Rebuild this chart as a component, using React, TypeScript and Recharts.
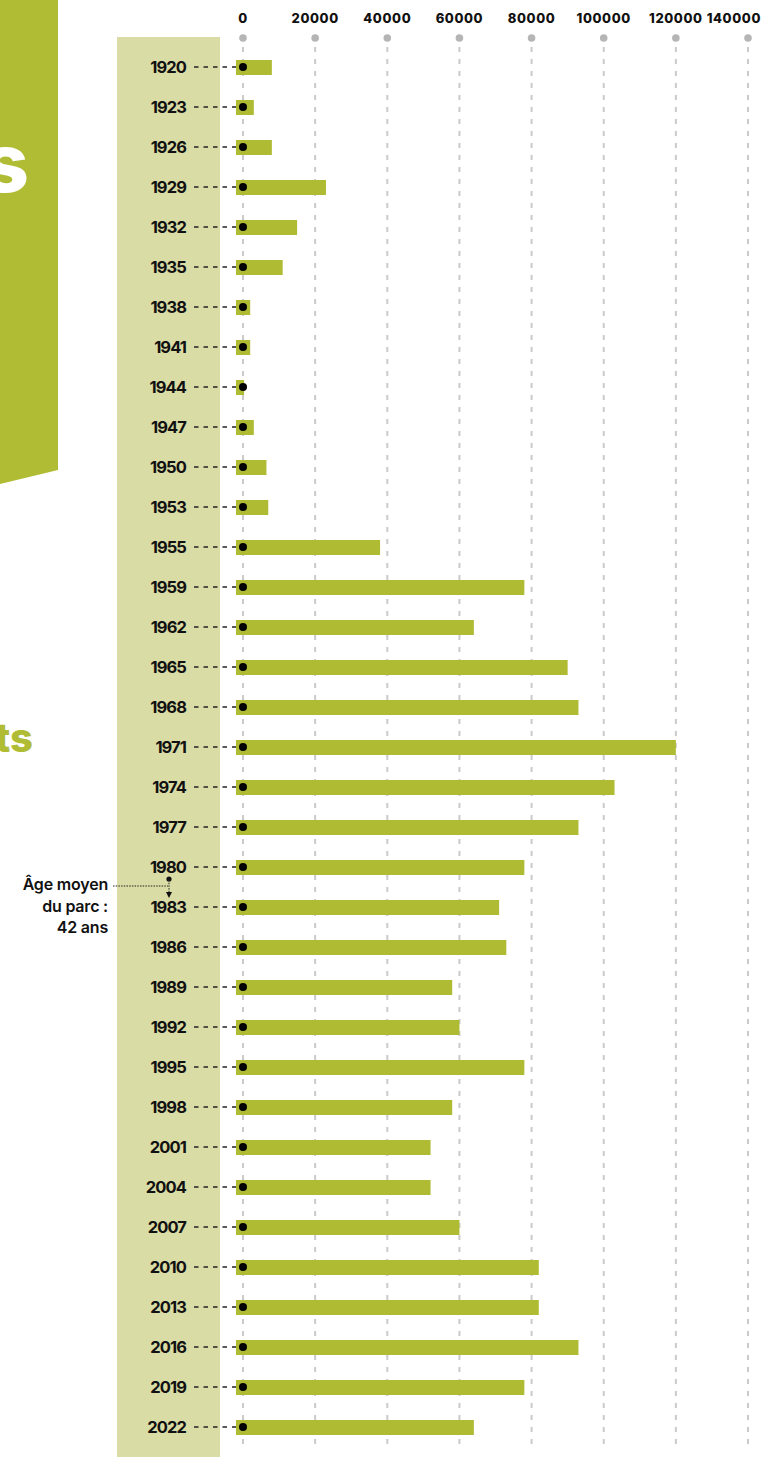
import React from 'react';
import { ComposedChart, Bar, Line, XAxis, YAxis, CartesianGrid } from 'recharts';

// Construction year of the housing stock (every 3 years) and number of dwellings
const years = [
  '1920', '1923', '1926', '1929', '1932', '1935', '1938', '1941', '1944', '1947',
  '1950', '1953', '1955', '1959', '1962', '1965', '1968', '1971', '1974', '1977',
  '1980', '1983', '1986', '1989', '1992', '1995', '1998', '2001', '2004', '2007',
  '2010', '2013', '2016', '2019', '2022',
];
const counts = [
  8000, 3000, 8000, 23000, 15000, 11000, 2000, 2000, 300, 3000,
  6500, 7000, 38000, 78000, 64000, 90000, 93000, 120000, 103000, 93000,
  78000, 71000, 73000, 58000, 60000, 78000, 58000, 52000, 52000, 60000,
  82000, 82000, 93000, 78000, 64000,
];
const xTicks = [0, 20000, 40000, 60000, 80000, 100000, 120000, 140000];

const avgLabel = ['Âge moyen', 'du parc :', '42 ans'];

const data = years.map((year, i) => ({ year, count: counts[i], origin: 0 }));

const GREEN = '#afbc33';
const LIGHT = '#d9dca5';
const FONT = 'Inter, "Noto Sans", sans-serif';
const X_MAX = xTicks[xTicks.length - 1];

const XTick = (props: any) => {
  const { x, payload } = props;
  // the last label is pushed left so it stays inside the page
  const last = payload.value === X_MAX;
  return (
    <g>
      <text
        x={last ? x + 13 : x}
        y={23}
        textAnchor={last ? 'end' : 'middle'}
        fontSize={13}
        fontWeight={800}
        fill="#111"
        fontFamily={FONT}
        letterSpacing={0.6}
      >
        {payload.value}
      </text>
      <circle cx={x} cy={38} r={3.8} fill="#b5b5b5" />
    </g>
  );
};

const YTick = (props: any) => {
  const { y, payload } = props;
  return (
    <g>
      <text x={186} y={y} dy={6} textAnchor="end" fontSize={16.5} fontWeight={700} fill="#111" fontFamily={FONT} letterSpacing={-0.9}>
        {payload.value}
      </text>
      <line x1={194} x2={236} y1={y} y2={y} stroke="#222" strokeWidth={1.4} strokeDasharray="4.5 5" />
    </g>
  );
};

// bar starts a little left of the zero line, like the original
const BarShape = (p: any) => (
  <rect x={p.x - 7} y={p.y} width={Math.max(p.width, 0) + 7} height={p.height} fill={GREEN} />
);

export default function App() {
  return (
    <div style={{ position: 'absolute', left: 0, top: 0, width: 777, height: 1457, background: '#fff', overflow: 'hidden', fontFamily: FONT }}>
      <svg width={777} height={1457} style={{ position: 'absolute', left: 0, top: 0 }}>
        <polygon points="0,0 58,0 58,470 0,484" fill="#b0bc34" />
        <text x={29} y={192} textAnchor="end" fontSize={82} fontWeight={800} fill="#fff" fontFamily={FONT}>s</text>
        <text x={33} y={752} textAnchor="end" fontSize={40} fontWeight={800} fill="#b0bc34" fontFamily={FONT}>ts</text>
        <rect x={117} y={37} width={103} height={1420} fill={LIGHT} />
      </svg>

      <div style={{ position: 'absolute', left: 0, top: 0 }}>
        <ComposedChart
          width={777}
          height={1457}
          data={data}
          layout="vertical"
          margin={{ top: 0, right: 29, bottom: 10, left: 0 }}
        >
          <CartesianGrid horizontal={false} vertical stroke="#cacaca" strokeWidth={2} strokeDasharray="5 7" />
          <XAxis
            type="number"
            orientation="top"
            domain={[0, X_MAX]}
            ticks={xTicks}
            height={47}
            axisLine={false}
            tickLine={false}
            tick={<XTick />}
            interval={0}
          />
          <YAxis
            type="category"
            dataKey="year"
            width={243}
            axisLine={false}
            tickLine={false}
            tick={<YTick />}
            interval={0}
          />
          <Bar dataKey="count" barSize={15} shape={<BarShape />} isAnimationActive={false} />
          <Line
            dataKey="origin"
            stroke="none"
            dot={{ r: 4, fill: '#000', stroke: 'none' }}
            activeDot={false}
            isAnimationActive={false}
          />
        </ComposedChart>
      </div>

      <svg width={777} height={1457} style={{ position: 'absolute', left: 0, top: 0, pointerEvents: 'none' }}>
        {avgLabel.map((t, i) => (
          <text key={t} x={108} y={890 + i * 21.5} textAnchor="end" fontSize={16} fontWeight={600} fill="#111" fontFamily={FONT} letterSpacing={-0.2}>
            {t}
          </text>
        ))}
        <line x1={113} x2={168} y1={886} y2={886} stroke="#222" strokeWidth={1} strokeDasharray="1.5 1.2" />
        <circle cx={169} cy={879} r={2.6} fill="#111" />
        <line x1={169} x2={169} y1={880} y2={893} stroke="#222" strokeWidth={1} strokeDasharray="1.5 1.2" />
        <polygon points="166,892 172,892 169,898" fill="#111" />
      </svg>
    </div>
  );
}
